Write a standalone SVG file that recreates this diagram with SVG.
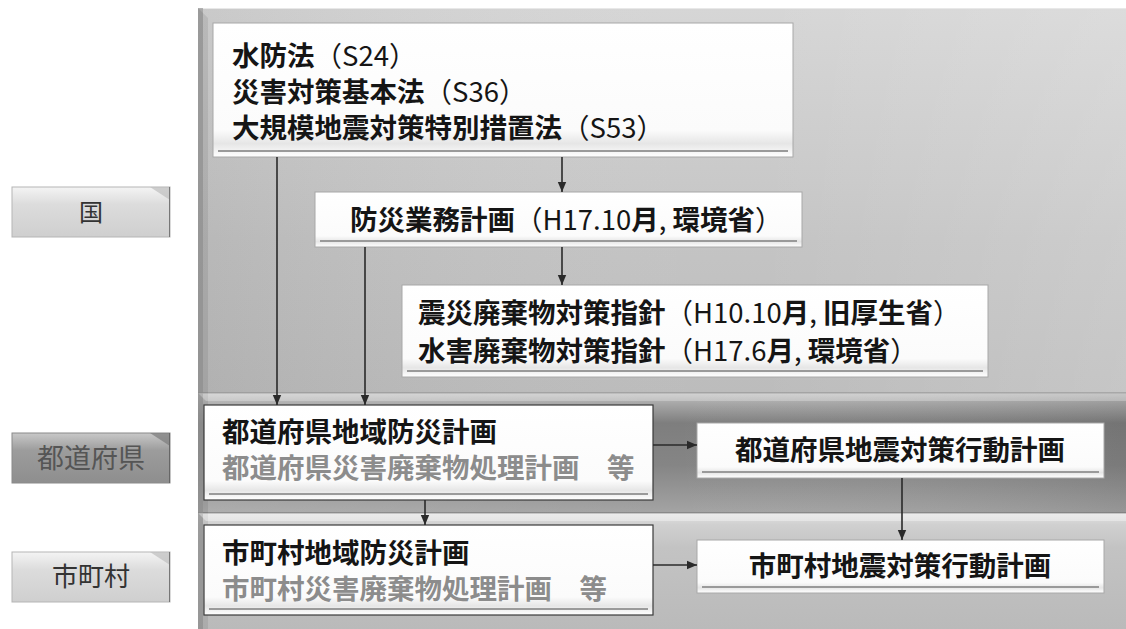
<svg xmlns="http://www.w3.org/2000/svg" width="1126" height="629" viewBox="0 0 1126 629">
<style>
.t{font-family:"Noto Sans CJK JP","Noto Sans CJK SC",sans-serif;font-weight:700;font-size:27.5px;fill:#151515}
.l{font-weight:400}
.g{fill:#8c8c8c}
.lab{font-family:"Noto Sans CJK JP","Noto Sans CJK SC",sans-serif;font-weight:400;text-anchor:middle}
.box{fill:url(#boxg);stroke:#a8a8a8;stroke-width:1}
.boxd{fill:url(#boxg);stroke:#3a3a3a;stroke-width:1.2}
.sh{stroke:#9a9a9a;stroke-width:2;fill:none}
.con{stroke:#2a2a2a;stroke-width:1.6;fill:none;marker-end:url(#ah)}
</style>
<defs>
<marker id="ah" markerUnits="userSpaceOnUse" markerWidth="10" markerHeight="10" refX="10" refY="5" orient="auto">
<path d="M0,0.8 L10,5 L0,9.2 z" fill="#2a2a2a"/>
</marker>
<linearGradient id="boxg" x1="0" y1="0" x2="0" y2="1">
<stop offset="0" stop-color="#ffffff"/>
<stop offset="0.8" stop-color="#fbfbfb"/>
<stop offset="0.9" stop-color="#e6e6e6"/>
<stop offset="1" stop-color="#ffffff"/>
</linearGradient>
<linearGradient id="topb" x1="0" y1="0" x2="0" y2="1">
<stop offset="0" stop-color="#d6d6d6"/>
<stop offset="0.45" stop-color="#c9c9c9"/>
<stop offset="0.6" stop-color="#c4c4c4"/>
<stop offset="1" stop-color="#bcbcbc"/>
</linearGradient>
<linearGradient id="topbh" x1="0" y1="0" x2="1" y2="0">
<stop offset="0" stop-color="#000" stop-opacity="0.06"/>
<stop offset="0.6" stop-color="#fff" stop-opacity="0"/>
<stop offset="1" stop-color="#fff" stop-opacity="0.15"/>
</linearGradient>
<linearGradient id="midb" x1="0" y1="0" x2="0" y2="1">
<stop offset="0" stop-color="#c4c4c4"/>
<stop offset="0.08" stop-color="#a9a9a9"/>
<stop offset="0.25" stop-color="#7e7e7e"/>
<stop offset="0.6" stop-color="#858585"/>
<stop offset="1" stop-color="#a4a4a4"/>
</linearGradient>
<linearGradient id="midbh" x1="0" y1="0" x2="1" y2="0">
<stop offset="0" stop-color="#fff" stop-opacity="0.12"/>
<stop offset="0.5" stop-color="#fff" stop-opacity="0"/>
<stop offset="1" stop-color="#000" stop-opacity="0.08"/>
</linearGradient>
<linearGradient id="botb" x1="0" y1="0" x2="0" y2="1">
<stop offset="0" stop-color="#e2e2e2"/>
<stop offset="0.1" stop-color="#d0d0d0"/>
<stop offset="0.3" stop-color="#c3c3c3"/>
<stop offset="1" stop-color="#bababa"/>
</linearGradient>
<linearGradient id="labl" x1="0" y1="0" x2="0" y2="1">
<stop offset="0" stop-color="#f4f4f4"/>
<stop offset="0.35" stop-color="#dcdcdc"/>
<stop offset="1" stop-color="#cfcfcf"/>
</linearGradient>
<linearGradient id="labd" x1="0" y1="0" x2="0" y2="1">
<stop offset="0" stop-color="#c8c8c8"/>
<stop offset="0.35" stop-color="#9c9c9c"/>
<stop offset="1" stop-color="#8e8e8e"/>
</linearGradient>
</defs>

<g id="background">
<rect x="198" y="8" width="928" height="385" fill="url(#topb)"/>
<rect x="198" y="8" width="928" height="385" fill="url(#topbh)"/>
<rect x="198" y="393" width="928" height="120" fill="url(#midb)"/>
<rect x="198" y="393" width="928" height="120" fill="url(#midbh)"/>
<rect x="198" y="513" width="928" height="116" fill="url(#botb)"/>
<line x1="198" y1="8.5" x2="1126" y2="8.5" stroke="#e8e8e8" stroke-width="1"/>
<line x1="198" y1="393" x2="1126" y2="393" stroke="#8a8a8a" stroke-width="1"/>
<line x1="198" y1="513" x2="1126" y2="513" stroke="#6e6e6e" stroke-width="1"/>
<rect x="198" y="8" width="5" height="621" fill="#9a9a9a" opacity="0.7"/>
<polygon points="198,8 208,18 208,629 198,629" fill="#000" opacity="0.08"/>
<polygon points="198,393 206,401 1126,401 1126,393" fill="#fff" opacity="0.25"/>
<polygon points="198,513 206,521 1126,521 1126,513" fill="#fff" opacity="0.35"/>
</g>

<g id="label-kuni">
<rect x="12" y="187" width="158" height="50" fill="url(#labl)" stroke="#b5b5b5" stroke-width="1"/>
<polygon points="150,187 170,187 170,200" fill="#bdbdbd" opacity="0.7"/>
<line x1="169.5" y1="187" x2="169.5" y2="237" stroke="#777" stroke-width="1"/>
<text class="lab" x="91" y="221" font-size="24" fill="#333">国</text>
</g>
<g id="label-todofuken">
<rect x="12" y="433" width="158" height="50" fill="url(#labd)" stroke="#8a8a8a" stroke-width="1"/>
<polygon points="150,433 170,433 170,446" fill="#7a7a7a" opacity="0.7"/>
<line x1="169.5" y1="433" x2="169.5" y2="483" stroke="#666" stroke-width="1"/>
<text class="lab" x="91" y="468" font-size="27" fill="#555">都道府県</text>
</g>
<g id="label-shichoson">
<rect x="12" y="552" width="158" height="50" fill="url(#labl)" stroke="#b5b5b5" stroke-width="1"/>
<polygon points="150,552 170,552 170,565" fill="#bdbdbd" opacity="0.7"/>
<line x1="169.5" y1="552" x2="169.5" y2="602" stroke="#777" stroke-width="1"/>
<text class="lab" x="91" y="586" font-size="26" fill="#333">市町村</text>
</g>

<g id="node-laws">
<rect class="box" x="213" y="23" width="580" height="134"/>
<line class="sh" x1="218" y1="151" x2="788" y2="151"/>
<text class="t" x="232" y="66">水防法<tspan class="l">（S24）</tspan></text>
<text class="t" x="232" y="102">災害対策基本法<tspan class="l">（S36）</tspan></text>
<text class="t" x="232" y="138">大規模地震対策特別措置法<tspan class="l">（S53）</tspan></text>
</g>

<g id="node-bousai-gyomu">
<rect class="box" x="315" y="192" width="487" height="55"/>
<line class="sh" x1="320" y1="241" x2="797" y2="241"/>
<text class="t" x="350" y="230">防災業務計画<tspan class="l">（H17.10</tspan>月<tspan class="l">, </tspan>環境省<tspan class="l">）</tspan></text>
</g>

<g id="node-shishin">
<rect class="box" x="402" y="285" width="586" height="92"/>
<line class="sh" x1="407" y1="371" x2="983" y2="371"/>
<text class="t" x="418" y="323">震災廃棄物対策指針<tspan class="l">（H10.10</tspan>月<tspan class="l">, </tspan>旧厚生省<tspan class="l">）</tspan></text>
<text class="t" x="418" y="361">水害廃棄物対策指針<tspan class="l">（H17.6</tspan>月<tspan class="l">, </tspan>環境省<tspan class="l">）</tspan></text>
</g>

<g id="node-pref-plan">
<rect class="boxd" x="204" y="405" width="449" height="95"/>
<line class="sh" x1="209" y1="494" x2="648" y2="494"/>
<text class="t" x="222" y="442">都道府県地域防災計画</text>
<text class="t g" x="222" y="478">都道府県災害廃棄物処理計画　等</text>
</g>

<g id="node-pref-quake">
<rect class="box" x="697" y="423" width="407" height="55"/>
<line class="sh" x1="702" y1="472" x2="1099" y2="472"/>
<text class="t" x="900" y="460" text-anchor="middle">都道府県地震対策行動計画</text>
</g>

<g id="node-muni-plan">
<rect class="boxd" x="204" y="525" width="449" height="90"/>
<line class="sh" x1="209" y1="609" x2="648" y2="609"/>
<text class="t" x="222" y="563">市町村地域防災計画</text>
<text class="t g" x="222" y="599">市町村災害廃棄物処理計画　等</text>
</g>

<g id="node-muni-quake">
<rect class="box" x="697" y="540" width="407" height="53"/>
<line class="sh" x1="702" y1="587" x2="1099" y2="587"/>
<text class="t" x="900" y="576" text-anchor="middle">市町村地震対策行動計画</text>
</g>

<g id="connectors">
<line class="con" x1="562" y1="157" x2="562" y2="192"/>
<line class="con" x1="562" y1="247" x2="562" y2="285"/>
<line class="con" x1="277" y1="157" x2="277" y2="405"/>
<line class="con" x1="365" y1="247" x2="365" y2="405"/>
<line class="con" x1="653" y1="445" x2="697" y2="445"/>
<line class="con" x1="425" y1="500" x2="425" y2="525"/>
<line class="con" x1="653" y1="565" x2="697" y2="565"/>
<line class="con" x1="902" y1="478" x2="902" y2="540"/>
</g>
</svg>
